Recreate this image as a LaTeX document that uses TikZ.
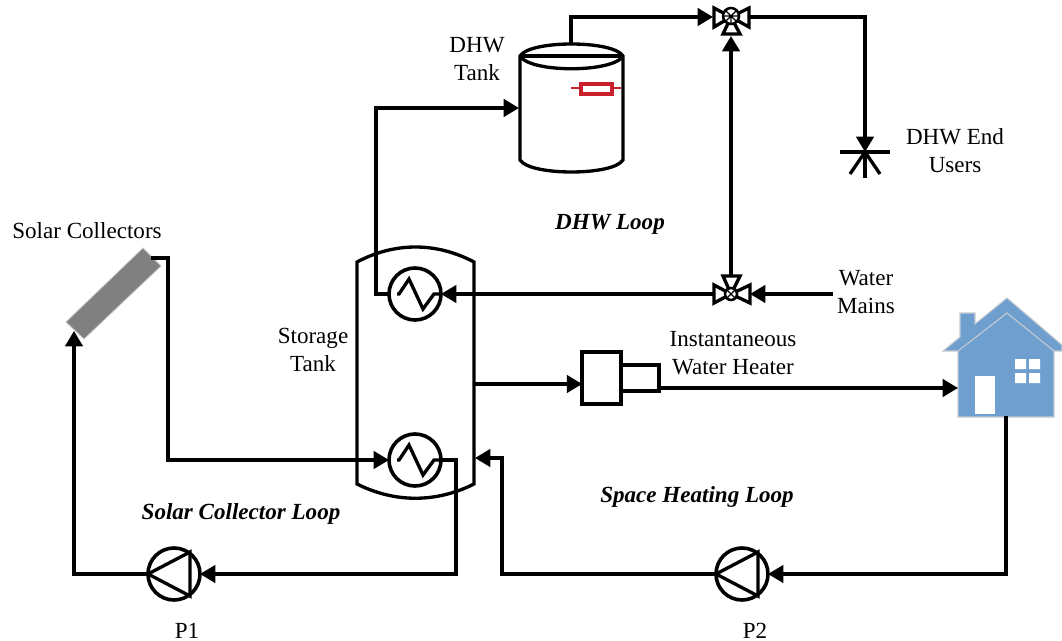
\documentclass[tikz,border=0pt]{standalone}
\usepackage{fontspec}
\setmainfont{Liberation Serif}
\usetikzlibrary{arrows.meta,calc}
\newcommand{\lblfont}{\fontsize{17.3}{21}\selectfont}
\newcommand{\loopfont}{\fontsize{17.3}{21}\selectfont\bfseries\itshape}
\definecolor{housecol}{HTML}{6F9FCF}
\definecolor{houseedge}{HTML}{C6CBD2}
\definecolor{heatred}{HTML}{C8202C}
\tikzset{
  pipe/.style={line width=2.5pt,line join=miter,-{Triangle[length=11.5pt,width=13pt]}},
  plain/.style={line width=2.5pt,line join=miter},
  sym/.style={line width=2.5pt,line join=miter,fill=white},
  hx/.style={circle,draw,line width=2.7pt,minimum size=39pt,inner sep=0pt,outer sep=0pt},
  pump/.style={circle,draw,line width=2.7pt,minimum size=39pt,inner sep=0pt,outer sep=0pt},
  box/.style={rectangle,draw,fill=white,line width=3pt,inner sep=0pt,outer sep=0pt},
  lbl/.style={font=\lblfont,align=center,inner sep=0pt},
  looplbl/.style={font=\loopfont,align=center,inner sep=0pt},
}
\begin{document}
\begin{tikzpicture}[x=0.75pt,y=-0.75pt]
\useasboundingbox (0,0) rectangle (1062,641);
% port coordinates
\coordinate (tankTop) at (571,44);
\coordinate (tankIn) at (519,108);
\coordinate (vTL) at (713,17);
\coordinate (vTR) at (749,17);
\coordinate (vTB) at (731,36);
\coordinate (vBL) at (714,294);
\coordinate (vBR) at (750,294);
\coordinate (vBT) at (731,276);
\coordinate (userTip) at (865,152);
\coordinate (mainsEnd) at (833,294);
\coordinate (colOut) at (151,258);
\coordinate (colIn) at (74,331);
\coordinate (stOut) at (473,384);
\coordinate (stIn) at (475,458);
\coordinate (houseIn) at (958,388);
\coordinate (houseOut) at (1006,416);
% storage tank
\draw[plain] (357,262) .. controls (395,242) and (436,242) .. (474,262) -- (474,484)
  .. controls (436,503) and (395,503) .. (357,484) -- cycle;
% heat exchangers
\node[hx] (hxT) at (415,294) {};
\node[hx] (hxB) at (415,460) {};
\draw[plain] (hxT.west) ++(8,0) -- ++(2,0) -- (409,279) -- (423,309) -- (434,294) -- (hxT.east);
\draw[plain] (hxB.west) ++(8,0) -- ++(2,0) -- (409,445) -- (423,475) -- (434,460) -- (hxB.east);
% pumps
\node[pump] (pA) at (174,574) {};
\node[pump] (pB) at (742,574) {};
\draw[plain] (148,574) -- (190,552) -- (190,596) -- cycle;
\draw[plain] (716,574) -- (758,552) -- (758,596) -- cycle;
% DHW tank
\draw[plain,fill=white] (520,56) .. controls (530,40) and (613,40) .. (623,56) -- (623,160)
  .. controls (613,176) and (530,176) .. (520,160) -- cycle;
\draw[plain] (520,56) .. controls (530,73) and (613,73) .. (623,56);
\draw[plain] (520,56) -- (623,56);
% DHW heater
\draw[heatred,line width=1.5pt] (571,88.5) -- (621,88.5);
\node[rectangle,draw=heatred,fill=white,line width=3pt,minimum width=23.5pt,minimum height=8pt,inner sep=0pt] (heat) at (596.5,89) {};
% valves
\draw[sym] (731,17) -- (714,8) -- (714,27) -- cycle;
\draw[sym] (731,17) -- (749,8) -- (749,27) -- cycle;
\draw[sym] (731,17) -- (723,34) -- (740,34) -- cycle;
\node[circle,draw,line width=1.9pt,fill=white,minimum size=12pt,inner sep=0pt] (vTop) at (731,16) {};
\draw[line width=1pt] (725,10) -- (737,22) (737,10) -- (725,22) (723,16) -- (739,16) (731,16) -- (731,25);
\draw[sym] (731,294) -- (714,285) -- (714,303) -- cycle;
\draw[sym] (731,294) -- (750,285) -- (750,303) -- cycle;
\draw[sym] (731,294) -- (723,276) -- (740,276) -- cycle;
\node[circle,draw,line width=1.9pt,fill=white,minimum size=9pt,inner sep=0pt] (vBot) at (731,294) {};
\draw[line width=1pt] (726,289) -- (736,299) (736,289) -- (726,299);
% end user fixture
\draw[plain] (840,152) -- (890,152);
\draw[plain] (865,152) -- (865,178);
\draw[plain] (865,152) -- (850,174);
\draw[plain] (865,152) -- (880,174);
% collector
\fill[gray,draw=gray!45,line width=.6pt] (143,248) -- (161,266) -- (84,339) -- (66,322) -- cycle;
% instantaneous heater
\node[box,minimum width=29pt,minimum height=39pt] (iwhA) at (601.5,378) {};
\node[box,minimum width=28.5pt,minimum height=19.5pt] (iwhB) at (640,378) {};
% house
\fill[housecol,draw=houseedge,line width=.8pt] (1007,298) -- (1062,345) -- (1062,351) -- (1054,351) -- (1054,417) -- (958,417) -- (958,351) -- (943,351) -- (960,337) -- (960,313) -- (975,313) -- (975,324) -- cycle;
\draw[houseedge,line width=.8pt] (958,351) -- (1007,313) -- (1054,351);
\fill[white] (975,376) rectangle (995,414);
\fill[white] (1015,359) rectangle (1026,369) (1029,359) rectangle (1040,369) (1015,373) rectangle (1026,383) (1029,373) rectangle (1040,383);
% connectors
\draw[pipe] (hxT.west) -- (376,294) |- (tankIn);
\draw[pipe] (tankTop) |- (vTL);
\draw[pipe] (vTR) -- (865,17) -- (userTip);
\draw[pipe] (vBT) -- (vTB);
\draw[pipe] (mainsEnd) -- (vBR);
\draw[pipe] (vBL) -- (hxT.east);
\draw[pipe] (colOut) -- (168,258) |- (hxB.west);
\draw[pipe] (hxB.east) -- (456,460) |- (pA.east);
\draw[pipe] (pA.west) -- (74,574) -- (colIn);
\draw[pipe] (stOut) -- (iwhA.west |- stOut);
\draw[pipe] (659,388) -- (houseIn);
\draw[pipe] (houseOut) |- (pB.east);
\draw[pipe] (pB.west) -- (502,574) |- (stIn);
% labels
\node[lbl] (lDhw) at (477,59) {DHW\\Tank};
\node[lbl] (lEnd) at (955,151) {DHW End\\Users};
\node[looplbl] (lLoopD) at (610,224) {DHW Loop};
\node[lbl] (lMains) at (866,292) {Water\\Mains};
\node[lbl] (lInst) at (733,353) {Instantaneous\\Water Heater};
\node[lbl] (lStore) at (313,350) {Storage\\Tank};
\node[lbl] (lSolar) at (87,231) {Solar Collectors};
\node[looplbl] (lLoopC) at (241,514) {Solar Collector Loop};
\node[looplbl] (lLoopS) at (697,497) {Space Heating Loop};
\node[lbl,anchor=base] (lP1) at (187,638) {P1};
\node[lbl,anchor=base] (lP2) at (755,638) {P2};
\end{tikzpicture}
\end{document}
